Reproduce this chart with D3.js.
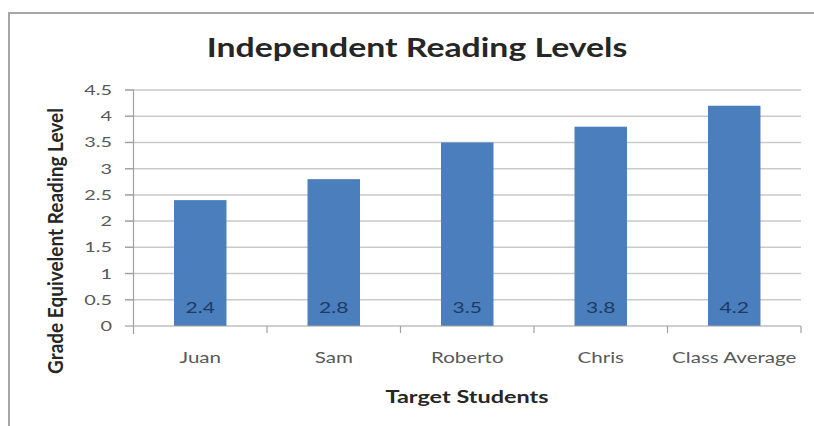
<!DOCTYPE html>
<html><head><meta charset="utf-8">
<script src="https://cdn.jsdelivr.net/npm/d3@7"></script>
<style>body{margin:0;background:#fff}svg{display:block}text{font-family:Lato,"Open Sans",sans-serif}</style>
</head><body>
<svg id="c" width="814" height="426"></svg>
<script>
const categories = ["Juan","Sam","Roberto","Chris","Class Average"];
const values = [2.4,2.8,3.5,3.8,4.2];
const yTicks = [0,0.5,1,1.5,2,2.5,3,3.5,4,4.5];
const title = "Independent Reading Levels";
const xTitle = "Target Students";
const yTitle = "Grade Equivelent Reading Level";

const svg = d3.select("#c");
// frame
svg.append("path").attr("d","M9,426 L9,13 L814,13").attr("fill","none").attr("stroke","#a6a6a6").attr("stroke-width",2);

const x = d3.scaleBand().domain(categories).range([133.5,801]).paddingInner(0.607).paddingOuter(0.3035);
const y = d3.scaleLinear().domain([0,4.5]).range([326,90]);

// gridlines
svg.append("g").selectAll("line").data(yTicks.filter(d=>d>0)).join("line")
  .attr("x1",125).attr("x2",801).attr("y1",d=>y(d)).attr("y2",d=>y(d))
  .attr("stroke","#c9c9c9").attr("stroke-width",1.5);

// y axis ticks + labels
svg.append("g").selectAll("line").data(yTicks).join("line")
  .attr("x1",125).attr("x2",133.5).attr("y1",d=>y(d)).attr("y2",d=>y(d))
  .attr("stroke","#a0a0a0").attr("stroke-width",1.2);
svg.append("g").selectAll("text").data(yTicks).join("text")
  .attr("transform",d=>`translate(112,${y(d)+5}) scale(1.42,1)`)
  .attr("text-anchor","end").attr("fill","#595959").attr("font-size",14)
  .text(d=>String(d));
svg.append("line").attr("x1",133.5).attr("x2",133.5).attr("y1",90).attr("y2",334).attr("stroke","#a0a0a0").attr("stroke-width",1.2);

// bars
svg.append("g").selectAll("rect").data(values).join("rect")
  .attr("x",(d,i)=>x(categories[i])).attr("width",x.bandwidth())
  .attr("y",d=>y(d)).attr("height",d=>y(0)-y(d)).attr("fill","#4a7ebd");

// value labels
svg.append("g").selectAll("text").data(values).join("text")
  .attr("transform",(d,i)=>`translate(${x(categories[i])+x.bandwidth()/2},313) scale(1.4,1)`)
  .attr("text-anchor","middle").attr("fill","#1d3a66").attr("font-size",15)
  .text(d=>d.toFixed(1));

// x axis
svg.append("line").attr("x1",133.5).attr("x2",801).attr("y1",326).attr("y2",326).attr("stroke","#a0a0a0").attr("stroke-width",1.2);
const step = x.step();
svg.append("g").selectAll("line").data(categories).join("line")
  .attr("x1",(d)=>x(d)-x.paddingOuter()*step+step).attr("x2",(d)=>x(d)-x.paddingOuter()*step+step)
  .attr("y1",326).attr("y2",333).attr("stroke","#a0a0a0").attr("stroke-width",1.2);
svg.append("g").selectAll("text").data(categories).join("text")
  .attr("transform",d=>`translate(${x(d)+x.bandwidth()/2},363) scale(1.37,1)`)
  .attr("text-anchor","middle").attr("fill","#595959").attr("font-size",15)
  .text(d=>d);

// titles
svg.append("text").attr("transform","translate(417,57) scale(1.3,1)").attr("text-anchor","middle")
  .attr("font-size",26).attr("font-weight","bold").attr("fill","#262626").text(title);
svg.append("text").attr("transform","translate(467,403) scale(1.42,1)").attr("text-anchor","middle")
  .attr("font-size",16.5).attr("font-weight","bold").attr("fill","#262626").text(xTitle);
svg.append("text").attr("transform","translate(63,241) rotate(-90) scale(1,1.1)").attr("text-anchor","middle")
  .attr("font-size",19).attr("font-weight","bold").attr("fill","#262626").text(yTitle);
</script>
</body></html>
